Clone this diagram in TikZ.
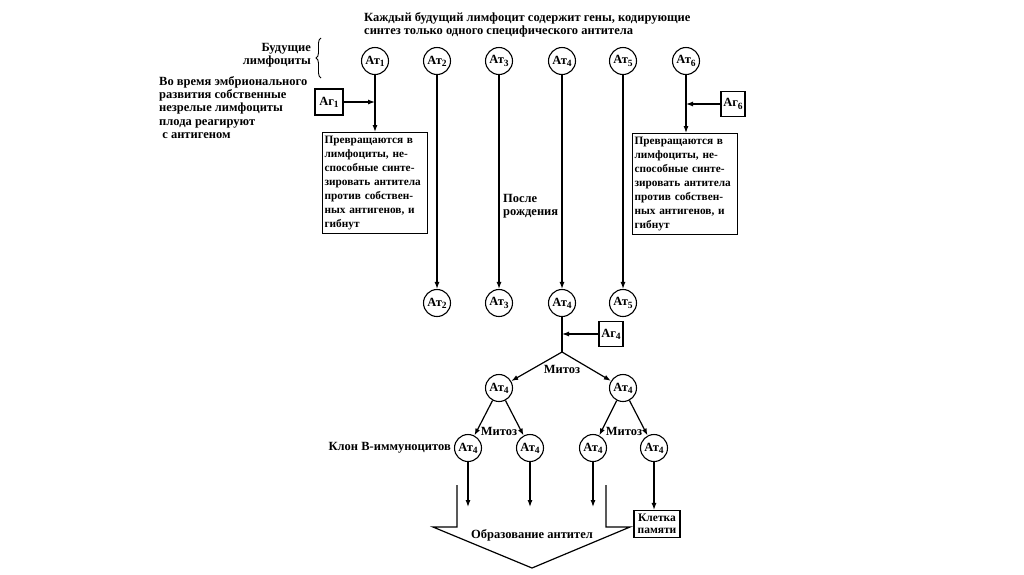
\documentclass[tikz,border=0pt]{standalone}
\usepackage{fontspec}
\setmainfont{Liberation Serif}
\usetikzlibrary{arrows.meta,decorations.pathreplacing}
\newcommand{\lsub}[1]{\raisebox{-2.2pt}{\fontsize{9.5}{9.5}\selectfont #1}}
\begin{document}
\begin{tikzpicture}[x=1pt,y=-1pt,
  every node/.style={font=\bfseries\fontsize{12.5}{13.3}\selectfont, inner sep=0},
  cell/.style={circle, draw, line width=1.1pt, minimum size=27pt, inner sep=0},
  ag/.style={draw, line width=1.1pt, minimum width=26pt, minimum height=25pt},
  txtbox/.style={draw, line width=1.1pt, align=left, text width=101pt, inner xsep=2pt, inner ysep=3pt, minimum height=101pt,
     font=\bfseries\fontsize{11.3}{14}\selectfont},
  lab/.style={align=left},
  ln/.style={line width=1.2pt},
  arr/.style={line width=1.2pt, -{Latex[length=7pt,width=5pt]}}
]
\useasboundingbox (0,0) rectangle (1024,574);
\fill[white] (0,0) rectangle (1024,574);

% title
\node[lab, anchor=north west] (title) at (364,12) {Каждый будущий лимфоцит содержит гены, кодирующие\\синтез только одного специфического антитела};

% top cells
\node[cell] (t1) at (375,61) {Ат\lsub{1}};
\node[cell] (t2) at (437,61) {Ат\lsub{2}};
\node[cell] (t3) at (499,61) {Ат\lsub{3}};
\node[cell] (t4) at (562,61) {Ат\lsub{4}};
\node[cell] (t5) at (623,61) {Ат\lsub{5}};
\node[cell] (t6) at (686,61) {Ат\lsub{6}};

\node[anchor=east, align=right] (fut) at (311,55) {Будущие\\лимфоциты};
\coordinate (br1) at (321,78);
\coordinate (br2) at (321,38);
\draw[line width=0.9pt, decorate, decoration={brace, amplitude=5pt}] (br1) -- (br2);

\node[lab, anchor=north west] (emb) at (159,76) {Во время эмбрионального\\развития собственные\\незрелые лимфоциты\\плода реагируют\\\ с антигеном};

% Ag1 branch
\node[ag, minimum width=28pt, minimum height=26pt] (ag1) at (329,102) {Аг\lsub{1}};
\node[txtbox, anchor=north west] (box1) at (322,132) {Превращаются в\\лимфоциты, не-\\способные синте-\\зировать антитела\\против собствен-\\ных антигенов, и\\гибнут};
\coordinate (j1) at (375,102);
\draw[ln] (t1) -- (j1);
\draw[arr] (j1) -- (box1.north -| t1);
\draw[arr] (ag1) -- (j1);

% Ag6 branch
\node[ag, minimum width=24pt] (ag6) at (733,104) {Аг\lsub{6}};
\node[txtbox, anchor=north west] (box6) at (632,133) {Превращаются в\\лимфоциты, не-\\способные синте-\\зировать антитела\\против собствен-\\ных антигенов, и\\гибнут};
\coordinate (j6) at (686,104);
\draw[ln] (t6) -- (j6);
\draw[arr] (j6) -- (box6.north -| t6);
\draw[arr] (ag6) -- (j6);

% after birth
\node[cell] (b2) at (437,303) {Ат\lsub{2}};
\node[cell] (b3) at (499,303) {Ат\lsub{3}};
\node[cell] (b4) at (562,303) {Ат\lsub{4}};
\node[cell] (b5) at (623,303) {Ат\lsub{5}};
\draw[arr] (t2) -- (b2);
\draw[arr] (t3) -- (b3);
\draw[arr] (t4) -- (b4);
\draw[arr] (t5) -- (b5);
\node[lab, anchor=north west] (birth) at (503,194) {После\\рождения};

% Ag4
\node[ag, minimum width=24pt] (ag4) at (611,334) {Аг\lsub{4}};
\coordinate (j4) at (562,334);
\coordinate (s) at (562,352);
\draw[ln] (b4) -- (s);
\draw[arr] (ag4) -- (j4);

% first mitosis
\node[cell] (m1) at (499,388) {Ат\lsub{4}};
\node[cell] (m2) at (623,388) {Ат\lsub{4}};
\draw[arr] (s) -- (m1);
\draw[arr] (s) -- (m2);
\node (mit1) at (562,369) {Митоз};

% second mitosis
\node[cell] (c1) at (468,448) {Ат\lsub{4}};
\node[cell] (c2) at (530,448) {Ат\lsub{4}};
\node[cell] (c3) at (593,448) {Ат\lsub{4}};
\node[cell] (c4) at (654,448) {Ат\lsub{4}};
\draw[arr] (m1) -- (c1);
\draw[arr] (m1) -- (c2);
\draw[arr] (m2) -- (c3);
\draw[arr] (m2) -- (c4);
\node (mit2) at (499,431) {Митоз};
\node (mit3) at (624,431) {Митоз};
\node[anchor=east] (clone) at (451,448) {Клон В-иммуноцитов};

% outputs
\coordinate (e1) at (468,507);
\coordinate (e2) at (530,507);
\coordinate (e3) at (593,507);
\draw[arr] (c1) -- (e1);
\draw[arr] (c2) -- (e2);
\draw[arr] (c3) -- (e3);
\node[draw, line width=1.1pt, align=center, minimum width=46pt, minimum height=27pt,
      font=\bfseries\fontsize{11.5}{12.5}\selectfont] (mem) at (657,524) {Клетка\\памяти};
\draw[arr] (c4) -- (c4 |- mem.north);

% big arrow
\draw[line width=1.2pt, line join=miter] (457,485) -- (457,527) -- (433,527) -- (532,568) -- (630,527) -- (606,527) -- (606,485);
\node (form) at (532,535) {Образование антител};
\end{tikzpicture}
\end{document}
